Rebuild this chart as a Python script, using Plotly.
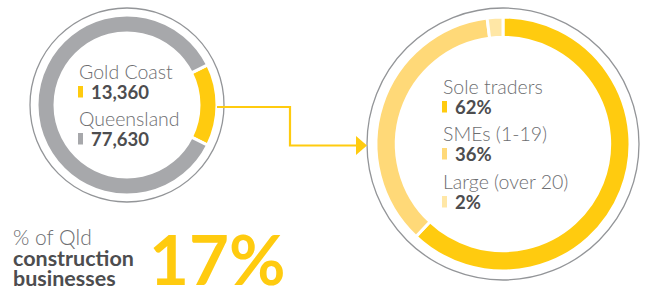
import plotly.graph_objects as go

# ---- data ----
left_labels = ["Gold Coast", "Queensland"]
left_values = [13360, 77630]
left_value_text = ["13,360", "77,630"]

right_labels = ["Sole traders", "SMEs (1-19)", "Large (over 20)"]
right_values = [62, 36, 2]
right_value_text = ["62%", "36%", "2%"]

headline_value = "17%"
headline_lines = ["% of Qld", "construction", "businesses"]

# ---- styles ----
W, H = 646, 289
YEL = "#FFCB0F"
YEL2 = "#FFD978"
YEL3 = "#FFE7A6"
GRAY = "#A7A8AB"
RING_GRAY = "#939598"
DARK = "#4D4D4F"
LIGHT = "#6D6E71"
FONT = "Lato"

left_colors = [YEL, GRAY]
right_colors = [YEL, YEL2, YEL3]

def px_domain(cx, cy, r):
    return dict(x=[(cx - r) / W, (cx + r) / W], y=[1 - (cy + r) / H, 1 - (cy - r) / H])

lcx, lcy, lr = 127, 105, 90
rcx, rcy, rr = 503, 144, 127

fig = go.Figure()

left_share = left_values[0] / sum(left_values)
fig.add_trace(go.Pie(
    values=left_values, labels=left_labels, hole=0.8, sort=False,
    direction="clockwise", rotation=90 - 180 * left_share,
    marker=dict(colors=left_colors, line=dict(color="white", width=3)),
    textinfo="none", hoverinfo="label+value", showlegend=False,
    domain=px_domain(lcx, lcy, lr),
))
fig.add_trace(go.Pie(
    values=right_values, labels=right_labels, hole=0.84, sort=False,
    direction="clockwise", rotation=0,
    marker=dict(colors=right_colors, line=dict(color="white", width=3)),
    textinfo="none", hoverinfo="label+value", showlegend=False,
    domain=px_domain(rcx, rcy, rr),
))

shapes = []
# thin outer circles
for cx, cy, r in [(lcx, lcy, 97), (rcx, rcy, 136)]:
    shapes.append(dict(type="circle", xref="x", yref="y", x0=cx - r, x1=cx + r,
                       y0=cy - r, y1=cy + r, line=dict(color=RING_GRAY, width=1.3),
                       layer="below"))
# connector
shapes.append(dict(type="path", xref="x", yref="y",
                   path="M 217 107 L 290 107 L 290 145.5 L 358 145.5",
                   line=dict(color=YEL, width=2.2)))
shapes.append(dict(type="path", xref="x", yref="y",
                   path="M 356 136 L 367 145.5 L 356 155 Z",
                   fillcolor=YEL, line=dict(color=YEL, width=0)))

annotations = []

def label_block(x, top, label, value, color):
    annotations.append(dict(x=x - 1, y=top + 6.5, xref="x", yref="y", text=label,
                            showarrow=False, xanchor="left", yanchor="middle",
                            font=dict(family=FONT, size=19.5, color=LIGHT, weight=300)))
    annotations.append(dict(x=x + 11, y=top + 26.5, xref="x", yref="y", text="<b>%s</b>" % value,
                            showarrow=False, xanchor="left", yanchor="middle",
                            font=dict(family=FONT, size=18.5, color=DARK)))
    shapes.append(dict(type="rect", xref="x", yref="y", x0=x, x1=x + 5,
                       y0=top + 21, y1=top + 32.5, fillcolor=color, line=dict(width=0)))

lefts_tops = [65, 112]
for lab, val, col, t in zip(left_labels, left_value_text, left_colors, lefts_tops):
    label_block(78, t, lab, val, col)

right_tops = [80, 127, 175]
for lab, val, col, t in zip(right_labels, right_value_text, right_colors, right_tops):
    label_block(442, t, lab, val, col)

# headline
annotations.append(dict(x=11, y=236, xref="x", yref="y", text=headline_lines[0],
                        showarrow=False, xanchor="left", yanchor="middle",
                        font=dict(family=FONT, size=21, color=LIGHT, weight=300)))
annotations.append(dict(x=11, y=257.5, xref="x", yref="y", text="<b>%s</b>" % headline_lines[1],
                        showarrow=False, xanchor="left", yanchor="middle",
                        font=dict(family=FONT, size=21.5, color=DARK)))
annotations.append(dict(x=11, y=278, xref="x", yref="y", text="<b>%s</b>" % headline_lines[2],
                        showarrow=False, xanchor="left", yanchor="middle",
                        font=dict(family=FONT, size=21.5, color=DARK)))
annotations.append(dict(x=147, y=258, xref="x", yref="y", text="<b>%s</b>" % headline_value,
                        showarrow=False, xanchor="left", yanchor="middle",
                        font=dict(family=FONT, size=69, color=YEL)))

fig.update_layout(
    width=W, height=H, margin=dict(l=0, r=0, t=0, b=0),
    paper_bgcolor="white", plot_bgcolor="white",
    xaxis=dict(range=[0, W], visible=False, fixedrange=True),
    yaxis=dict(range=[H, 0], visible=False, fixedrange=True),
    shapes=shapes, annotations=annotations, showlegend=False,
)
fig.write_html("out.html", config={"displayModeBar": False},
               post_script="document.body.style.margin='0';document.body.style.overflow='hidden';")
